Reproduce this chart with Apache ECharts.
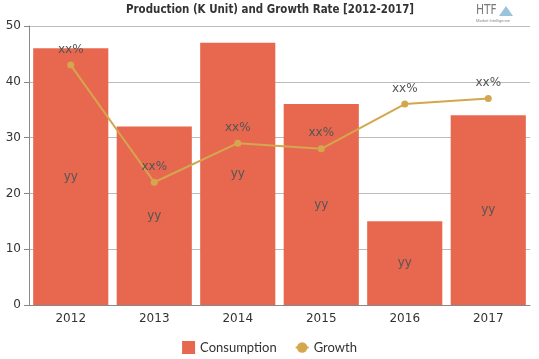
<!DOCTYPE html>
<html><head><meta charset="utf-8">
<script src="https://cdn.jsdelivr.net/npm/echarts@6/dist/echarts.min.js"></script>
<style>html,body{margin:0;padding:0;background:#fff}#c{width:539px;height:359px}</style>
</head><body><div id="c"></div>
<script>
const categories = ['2012','2013','2014','2015','2016','2017'];
const consumption = [46, 32, 47, 36, 15, 34];
const growth = [43, 22, 29, 28, 36, 37];
const yTicks = [0, 10, 20, 30, 40, 50];
const titleText = 'Production (K Unit) and Growth Rate [2012-2017]';

const chart = echarts.init(document.getElementById('c'));
chart.setOption({
  animation: false,
  graphic: [
    {type: 'text', x: 126, y: 3, scaleX: 0.88, style: {text: titleText, font: 'bold 13px "DejaVu Sans Condensed"', fill: '#333'}},
    {type: 'text', x: 476, y: 3, scaleX: 0.85, style: {text: 'HTF', font: '14px "DejaVu Sans Condensed"', fill: '#7a7a7a'}},
    {type: 'polygon', shape: {points: [[499, 16], [506, 6], [513, 16]]}, style: {fill: '#9cc3dc'}},
    {type: 'text', x: 476, y: 19, style: {text: 'Market Intelligence', font: '4px Roboto', fill: '#8a8a8a'}}
  ],
  legend: {
    bottom: 0, left: 'center', itemWidth: 13, itemHeight: 13, itemGap: 18,
    textStyle: {fontFamily: 'Lato', fontSize: 13, color: '#333'},
    data: [{name: 'Consumption', icon: 'rect'}, {name: 'Growth'}]
  },
  grid: {left: 29, right: 9, top: 26, bottom: 54},
  xAxis: {
    type: 'category', data: categories,
    axisLine: {lineStyle: {color: '#888'}},
    axisTick: {show: false},
    axisLabel: {color: '#333', fontSize: 12, fontFamily: 'DejaVu Sans', margin: 8}
  },
  yAxis: {
    type: 'value', min: 0, max: 50, interval: 10,
    axisLine: {show: true, lineStyle: {color: '#888'}},
    axisTick: {show: true, length: 5, lineStyle: {color: '#888'}},
    axisLabel: {color: '#333', fontSize: 12, fontFamily: 'DejaVu Sans', margin: 8},
    splitLine: {lineStyle: {color: '#bbb'}}
  },
  series: [
    {
      name: 'Consumption', type: 'bar', data: consumption, barCategoryGap: '10%',
      itemStyle: {color: '#E8684F'},
      label: {show: true, position: 'inside', formatter: 'yy', color: '#555', fontSize: 12, fontFamily: 'DejaVu Sans'}
    },
    {
      name: 'Growth', type: 'line', data: growth,
      symbol: 'circle', symbolSize: 7,
      lineStyle: {color: '#D4A64E', width: 2},
      itemStyle: {color: '#D4A64E'},
      label: {show: true, position: 'top', formatter: 'xx%', color: '#555', fontSize: 12, fontFamily: 'DejaVu Sans', distance: 6}
    }
  ]
});
</script></body></html>
